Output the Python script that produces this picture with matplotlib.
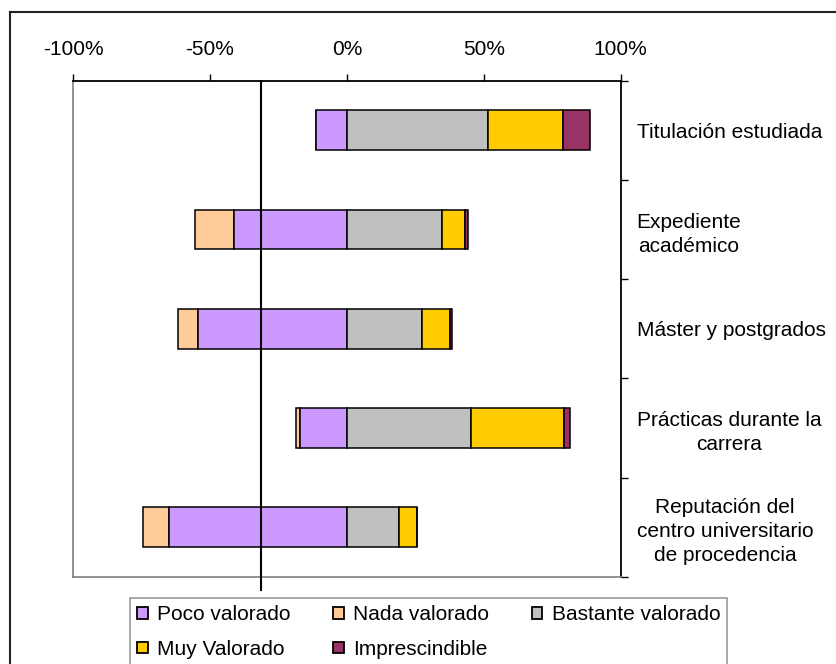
import matplotlib
matplotlib.use("Agg")
import matplotlib.pyplot as plt
from matplotlib.patches import Patch
from matplotlib.lines import Line2D
import numpy as np

plt.rcParams['font.family'] = ['Liberation Sans', 'DejaVu Sans']

categories = [
    "Titulación estudiada",
    "Expediente\nacadémico",
    "Máster y postgrados",
    "Prácticas durante la\ncarrera",
    "Reputación del\ncentro universitario\nde procedencia",
]

# Percentages per rating level (negative side: Nada + Poco; positive side: the rest)
nada_valorado = [0.0, 14.4, 7.3, 1.3, 9.6]
poco_valorado = [11.4, 41.2, 54.2, 17.2, 65.0]
bastante_valorado = [51.4, 34.8, 27.5, 45.2, 19.0]
muy_valorado = [27.6, 8.3, 10.1, 34.2, 6.7]
imprescindible = [9.7, 1.2, 0.9, 2.0, 0.0]

reference_value = -31.5

x_ticks = [-100, -50, 0, 50, 100]
x_tick_labels = ["-100%", "-50%", "0%", "50%", "100%"]

colors = {
    "Poco valorado": "#CC99FF",
    "Nada valorado": "#FFCC99",
    "Bastante valorado": "#C0C0C0",
    "Muy Valorado": "#FFCC00",
    "Imprescindible": "#993366",
}

W, H = 837, 664
fig = plt.figure(figsize=(W / 100, H / 100), dpi=100)
ax = fig.add_axes([73 / W, (H - 576.7) / H, (620.7 - 73) / W, (576.7 - 80.7) / H])

y = np.arange(len(categories))
nada = np.array(nada_valorado)
poco = np.array(poco_valorado)
bast = np.array(bastante_valorado)
muy = np.array(muy_valorado)
imp = np.array(imprescindible)

bar_kw = dict(height=0.4, edgecolor="black", linewidth=1.1, zorder=3)
ax.barh(y, nada, left=-(poco + nada), color=colors["Nada valorado"], **bar_kw)
ax.barh(y, poco, left=-poco, color=colors["Poco valorado"], **bar_kw)
ax.barh(y, bast, left=0, color=colors["Bastante valorado"], **bar_kw)
ax.barh(y, muy, left=bast, color=colors["Muy Valorado"], **bar_kw)
ax.barh(y, imp, left=bast + muy, color=colors["Imprescindible"], **bar_kw)

ax.set_xlim(-100, 100)
ax.set_ylim(len(categories) - 0.5, -0.5)

# Reference line, running a little past the bottom of the plot area
ax.plot([reference_value, reference_value], [-0.5, 4.634], color="black",
        linewidth=1.5, clip_on=False, zorder=4)

# Top percentage axis
ax.xaxis.tick_top()
ax.set_xticks(x_ticks)
ax.set_xticklabels(x_tick_labels, fontsize=15)
ax.tick_params(axis="x", direction="out", length=5, width=1, pad=10.5, colors="black")

# Category labels on the right, boundaries marked with minor ticks
ax.yaxis.tick_right()
ax.set_yticks(y)
ax.set_yticklabels(categories, fontsize=15, multialignment="center", linespacing=1.35)
ax.set_yticks(np.arange(-0.5, len(categories)), minor=True)
ax.tick_params(axis="y", which="major", length=0, pad=11.5)
ax.tick_params(axis="y", which="minor", direction="out", length=5, width=1, color="black")

for side in ("left", "bottom"):
    ax.spines[side].set_color("#808080")
    ax.spines[side].set_linewidth(1.2)
for side in ("top", "right"):
    ax.spines[side].set_color("black")
    ax.spines[side].set_linewidth(1.3)

# Legend (row-major order across three columns)
order = ["Poco valorado", "Muy Valorado", "Nada valorado", "Imprescindible", "Bastante valorado"]
handles = [Patch(facecolor=colors[k], edgecolor="black", linewidth=1.3, label=k) for k in order]
leg = fig.legend(handles=handles, loc="upper left", bbox_to_anchor=(130 / W, (H - 598) / H),
                 ncol=3, fontsize=15, frameon=True, fancybox=False, borderaxespad=0,
                 borderpad=0.35, handlelength=0.5, handleheight=0.5, handletextpad=0.45,
                 columnspacing=2.05, labelspacing=0.75)
leg.get_frame().set_edgecolor("#808080")
leg.get_frame().set_linewidth(1.2)

# Outer chart border
fig.add_artist(Line2D([10.5 / W, 10.5 / W], [0, (H - 12) / H], transform=fig.transFigure,
                      color="#222222", linewidth=1.5))
fig.add_artist(Line2D([10.5 / W, 1], [(H - 12) / H, (H - 12) / H], transform=fig.transFigure,
                      color="#222222", linewidth=1.5))

fig.savefig("out.png", dpi=100)
